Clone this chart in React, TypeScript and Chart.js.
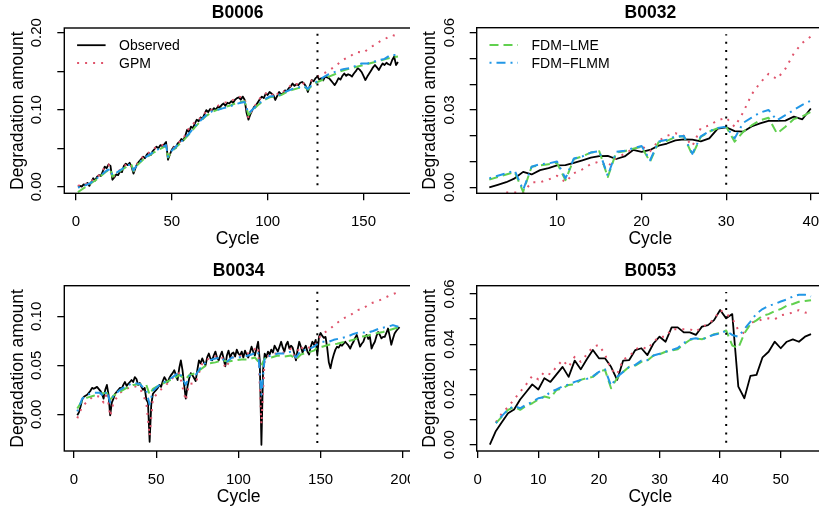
import React, { useEffect, useRef } from "react";
import { Chart, registerables } from "chart.js";
Chart.register(...registerables);

type Pt = [number, number];

const FONT = "'Liberation Sans', Arial, Helvetica, sans-serif";
const COL_OBS = "#000000";
const COL_GPM = "#DF536B";
const COL_LME = "#61D04F";
const COL_FLMM = "#2297E6";

const Y_TITLE = "Degradation amount";
const X_TITLE = "Cycle";

// ---------------- B0006 ----------------
const b0006Start = 1;
const b0006Obs = [
  0.000, 0.001, 0.000, 0.003, 0.002, 0.005, 0.001, 0.006, 0.011, 0.008,
  0.013, 0.015, 0.014, 0.020, 0.026, 0.024, 0.029, 0.027, 0.009, 0.012,
  0.016, 0.015, 0.020, 0.019, 0.027, 0.030, 0.028, 0.031, 0.026, 0.017,
  0.024, 0.030, 0.033, 0.036, 0.039, 0.037, 0.042, 0.044, 0.041, 0.046,
  0.049, 0.052, 0.050, 0.054, 0.053, 0.055, 0.058, 0.035, 0.042, 0.048,
  0.052, 0.050, 0.056, 0.058, 0.062, 0.060, 0.066, 0.074, 0.071, 0.078,
  0.076, 0.082, 0.087, 0.085, 0.090, 0.088, 0.094, 0.0995, 0.097, 0.101,
  0.099, 0.102, 0.100, 0.104, 0.103, 0.106, 0.108, 0.105, 0.109, 0.108,
  0.111, 0.109, 0.113, 0.115, 0.116, 0.113, 0.117, 0.113, 0.096, 0.087,
  0.094, 0.0995, 0.104, 0.106, 0.110, 0.114, 0.117, 0.115, 0.121, 0.119,
  0.123, 0.121, 0.119, 0.1126, 0.118, 0.123, 0.120, 0.121, 0.125, 0.124,
  0.128, 0.130, 0.134, 0.131, 0.133, 0.132, 0.135, 0.136, 0.134, 0.130,
  0.123, 0.131, 0.1385, 0.137, 0.141, 0.143, 0.139, 0.141, 0.138, 0.143,
  0.142, 0.141, 0.138, 0.135, 0.132, 0.136, 0.141, 0.139, 0.144, 0.147,
  0.144, 0.146, 0.145, 0.143, 0.147, 0.150, 0.154, 0.152, 0.149, 0.144,
  0.1385, 0.143, 0.147, 0.151, 0.155, 0.158, 0.155, 0.1515, 0.156, 0.160,
  0.158, 0.161, 0.159, 0.158, 0.1645, 0.169, 0.158, 0.162,
];
const b0006Gpm: Pt[] = [
  [1, 0.001], [4, 0.004], [7, 0.003], [9, 0.010], [12, 0.015], [15, 0.025], [17, 0.029], [19, 0.011],
  [21, 0.017], [25, 0.027], [28, 0.031], [30, 0.019], [32, 0.030], [35, 0.039], [38, 0.044], [42, 0.052],
  [45, 0.054], [47, 0.057], [48, 0.037], [50, 0.048], [53, 0.056], [56, 0.062], [58, 0.073], [60, 0.078],
  [63, 0.087], [66, 0.090], [68, 0.099], [71, 0.100], [74, 0.105], [77, 0.109], [80, 0.110], [83, 0.114],
  [85, 0.117], [88, 0.115], [90, 0.089], [92, 0.100], [95, 0.111], [97, 0.118], [99, 0.121], [101, 0.123],
  [104, 0.116], [106, 0.124], [108, 0.123], [111, 0.129], [113, 0.134], [116, 0.133], [118, 0.136], [121, 0.127],
  [123, 0.138], [126, 0.143], [128, 0.146], [130, 0.148], [132, 0.151], [135, 0.156], [137, 0.160], [139, 0.164],
  [141, 0.167], [143, 0.169], [145, 0.173], [147, 0.175], [150, 0.174], [153, 0.180], [155, 0.183], [157, 0.186],
  [160, 0.191], [162, 0.193], [165, 0.197], [168, 0.195],
];
const b0006Lme: Pt[] = [
  [1, -0.007], [4, -0.002], [7, 0.003], [10, 0.008], [13, 0.014], [16, 0.020], [18, 0.023], [19, 0.013],
  [21, 0.017], [24, 0.022], [27, 0.027], [29, 0.028], [30, 0.020], [32, 0.028], [35, 0.035], [38, 0.040],
  [41, 0.045], [44, 0.049], [47, 0.053], [48, 0.038], [50, 0.046], [53, 0.053], [56, 0.060], [59, 0.068],
  [62, 0.077], [65, 0.085], [68, 0.092], [71, 0.097], [74, 0.100], [77, 0.103], [80, 0.105], [83, 0.108],
  [86, 0.110], [88, 0.111], [90, 0.093], [92, 0.099], [95, 0.106], [98, 0.112], [101, 0.116], [104, 0.117],
  [107, 0.119], [110, 0.123], [113, 0.126], [116, 0.128], [119, 0.130], [121, 0.126], [123, 0.131], [126, 0.136],
  [129, 0.139], [132, 0.143], [135, 0.146], [138, 0.150], [141, 0.152], [144, 0.154], [147, 0.156], [150, 0.158],
  [153, 0.160], [156, 0.162], [159, 0.164], [162, 0.166], [165, 0.168], [168, 0.169],
];
const b0006Flmm: Pt[] = [
  [1, -0.001], [4, 0.001], [7, 0.004], [10, 0.009], [13, 0.015], [16, 0.021], [18, 0.023], [19, 0.015],
  [21, 0.018], [24, 0.023], [27, 0.028], [29, 0.029], [30, 0.021], [32, 0.029], [35, 0.036], [38, 0.041],
  [41, 0.046], [44, 0.050], [47, 0.054], [48, 0.039], [50, 0.047], [53, 0.054], [56, 0.061], [59, 0.069],
  [62, 0.078], [65, 0.086], [68, 0.093], [71, 0.098], [74, 0.100], [77, 0.102], [80, 0.104], [83, 0.107],
  [86, 0.109], [88, 0.110], [90, 0.095], [92, 0.100], [95, 0.107], [98, 0.113], [101, 0.117], [104, 0.118],
  [107, 0.120], [110, 0.124], [113, 0.127], [116, 0.129], [119, 0.131], [121, 0.127], [123, 0.132], [126, 0.137],
  [129, 0.142], [131, 0.145], [134, 0.148], [137, 0.151], [140, 0.153], [143, 0.154], [146, 0.157], [149, 0.160],
  [152, 0.160], [155, 0.162], [158, 0.1645], [161, 0.166], [164, 0.171], [168, 0.171],
];
const b0006Split: Pt[] = [[126, 0.002], [126, 0.1996]];
const b0006XTicks = [0, 50, 100, 150];
const b0006YTicks = [0, 0.05, 0.1, 0.15, 0.2];
const b0006YLabels = ["0.00", "", "0.10", "", "0.20"];

// ---------------- B0032 ----------------
const b0032Start = 2;
const b0032Obs = [
  0.000, 0.001, 0.002, 0.0035, 0.006, 0.005, 0.0067, 0.0075, 0.0085, 0.0086,
  0.0095, 0.0105, 0.0115, 0.0121, 0.0122, 0.011, 0.012, 0.0145, 0.0138, 0.0145,
  0.0162, 0.017, 0.0182, 0.0186, 0.0185, 0.0178, 0.019, 0.0228, 0.0233, 0.0218,
  0.0216, 0.0236, 0.0248, 0.0258, 0.0258, 0.0259, 0.0274, 0.0264, 0.0306,
];
const b0032Gpm: Pt[] = [
  [4, -0.002], [5, -0.002], [6, -0.002], [7, 0.002], [8, 0.002], [9, 0.003], [10, 0.0045], [11, 0.002],
  [12, 0.0055], [13, 0.007], [14, 0.009], [15, 0.010], [16, 0.008], [17, 0.0115], [18, 0.013], [19, 0.015],
  [20, 0.016], [21, 0.014], [22, 0.018], [23, 0.020], [24, 0.021], [25, 0.020], [26, 0.016], [27, 0.023],
  [28, 0.024], [29, 0.026], [30, 0.027], [31, 0.0235], [32, 0.029], [33, 0.036], [34, 0.0405], [35, 0.044],
  [36, 0.042], [37, 0.046], [38, 0.052], [39, 0.056], [40, 0.0585],
];
const b0032Lme: Pt[] = [
  [2, 0.003], [3, 0.004], [4, 0.005], [5, 0.006], [6, -0.0017], [7, 0.008], [8, 0.0085], [9, 0.009],
  [10, 0.0095], [11, 0.0028], [12, 0.011], [13, 0.012], [14, 0.0135], [15, 0.014], [16, 0.004], [17, 0.0135],
  [18, 0.014], [19, 0.015], [20, 0.0157], [21, 0.0099], [22, 0.0175], [23, 0.018], [24, 0.0195], [25, 0.0198],
  [26, 0.0125], [27, 0.0196], [28, 0.0216], [29, 0.0229], [30, 0.0235], [31, 0.0177], [32, 0.0215], [33, 0.024],
  [34, 0.026], [35, 0.027], [36, 0.0209], [37, 0.0235], [38, 0.0265], [39, 0.0275], [40, 0.0293],
];
const b0032Flmm: Pt[] = [
  [2, 0.0035], [3, 0.0045], [4, 0.0055], [5, 0.0065], [6, -0.001], [7, 0.008], [8, 0.009], [9, 0.0093],
  [10, 0.010], [11, 0.0035], [12, 0.0112], [13, 0.012], [14, 0.0135], [15, 0.014], [16, 0.0045], [17, 0.0138],
  [18, 0.0142], [19, 0.0152], [20, 0.016], [21, 0.0105], [22, 0.0178], [23, 0.0185], [24, 0.0198], [25, 0.0199],
  [26, 0.013], [27, 0.0198], [28, 0.0218], [29, 0.023], [30, 0.0235], [31, 0.019], [32, 0.025], [33, 0.027],
  [34, 0.029], [35, 0.030], [36, 0.026], [37, 0.028], [38, 0.030], [39, 0.032], [40, 0.0336],
];
const b0032Split: Pt[] = [[30, 0.001], [30, 0.0594]];
const b0032XTicks = [10, 20, 30, 40];
const b0032YTicks = [0, 0.01, 0.02, 0.03, 0.04, 0.05, 0.06];
const b0032YLabels = ["0.00", "", "", "0.03", "", "", "0.06"];

// ---------------- B0034 ----------------
const b0034Start = 2;
const b0034Obs = [
  -0.001, 0.002, 0.008, 0.015, 0.018, 0.019, 0.020, 0.022, 0.024, 0.027,
  0.026, 0.027, 0.028, 0.026, 0.024, 0.021, 0.016, 0.025, 0.030, 0.020,
  -0.001, 0.012, 0.016, 0.021, 0.023, 0.025, 0.027, 0.026, 0.030, 0.033,
  0.029, 0.031, 0.033, 0.035, 0.033, 0.038, 0.036, 0.030, 0.032, 0.028,
  0.025, 0.027, 0.015, 0.012, -0.028, 0.010, 0.021, 0.023, 0.025, 0.027,
  0.030, 0.028, 0.034, 0.038, 0.035, 0.033, 0.037, 0.040, 0.042, 0.045,
  0.040, 0.035, 0.047, 0.055, 0.045, 0.030, 0.016, 0.028, 0.036, 0.042,
  0.040, 0.037, 0.034, 0.045, 0.055, 0.052, 0.057, 0.053, 0.050, 0.058,
  0.062, 0.057, 0.055, 0.060, 0.064, 0.058, 0.055, 0.060, 0.064, 0.057,
  0.049, 0.060, 0.065, 0.058, 0.062, 0.063, 0.059, 0.066, 0.062, 0.060,
  0.064, 0.058, 0.065, 0.061, 0.058, 0.063, 0.069, 0.064, 0.060, 0.067,
  0.074, 0.055, -0.031, 0.045, 0.062, 0.058, 0.064, 0.061, 0.066, 0.063,
  0.070, 0.067, 0.064, 0.069, 0.074, 0.068, 0.064, 0.071, 0.074, 0.067,
  0.070, 0.068, 0.062, 0.055, 0.066, 0.074, 0.069, 0.063, 0.067, 0.070,
  0.064, 0.061, 0.069, 0.074, 0.071, 0.076, 0.060, 0.079, 0.083, 0.080,
  0.078, 0.079, 0.068, 0.053, 0.047, 0.055, 0.061, 0.066, 0.069, 0.068,
  0.071, 0.070, 0.072, 0.074, 0.072, 0.070, 0.067, 0.071, 0.074, 0.078,
  0.081, 0.075, 0.069, 0.072, 0.074, 0.079, 0.081, 0.077, 0.079, 0.067,
  0.071, 0.074, 0.080, 0.084, 0.081, 0.0775, 0.079, 0.079, 0.083, 0.0875,
  0.080, 0.071, 0.077, 0.0825, 0.085, 0.087, 0.089,
];
const b0034Gpm: Pt[] = [
  [2, -0.004], [5, 0.008], [8, 0.013], [12, 0.019], [16, 0.018], [18, 0.012], [20, 0.023], [22, -0.002],
  [24, 0.012], [28, 0.022], [32, 0.026], [36, 0.029], [40, 0.027], [44, 0.012], [46, -0.022], [48, 0.016],
  [52, 0.024], [56, 0.030], [60, 0.037], [64, 0.042], [68, 0.014], [70, 0.031], [74, 0.032], [78, 0.052],
  [82, 0.057], [86, 0.059], [90, 0.059], [92, 0.047], [96, 0.058], [100, 0.059], [104, 0.061], [108, 0.064],
  [112, 0.069], [114, -0.010], [116, 0.057], [120, 0.062], [124, 0.062], [128, 0.063], [132, 0.067], [135, 0.055],
  [137, 0.070], [140, 0.066], [144, 0.069], [148, 0.073], [150, 0.081], [152, 0.083], [155, 0.086], [159, 0.092],
  [164, 0.098], [168, 0.101], [172, 0.106], [176, 0.108], [180, 0.113], [184, 0.115], [188, 0.118], [193, 0.122],
  [198, 0.125],
];
const b0034Lme: Pt[] = [
  [2, 0.006], [5, 0.014], [8, 0.017], [12, 0.019], [16, 0.021], [20, 0.022], [22, 0.015], [24, 0.019],
  [28, 0.023], [32, 0.027], [36, 0.030], [40, 0.031], [44, 0.030], [46, 0.020], [48, 0.026], [52, 0.030],
  [56, 0.033], [60, 0.036], [64, 0.040], [68, 0.036], [70, 0.040], [74, 0.042], [78, 0.047], [82, 0.052],
  [86, 0.053], [90, 0.055], [94, 0.054], [98, 0.055], [102, 0.056], [106, 0.056], [110, 0.058], [114, 0.050],
  [116, 0.057], [120, 0.058], [124, 0.060], [128, 0.059], [132, 0.060], [135, 0.056], [138, 0.061], [142, 0.063],
  [146, 0.065], [148, 0.068], [151, 0.069], [155, 0.071], [160, 0.072], [165, 0.074], [170, 0.076], [174, 0.079],
  [178, 0.080], [184, 0.0826], [188, 0.084], [192, 0.086], [198, 0.089],
];
const b0034Flmm: Pt[] = [
  [2, 0.003], [5, 0.016], [8, 0.020], [12, 0.022], [16, 0.022], [18, 0.018], [20, 0.024], [22, 0.012],
  [24, 0.019], [28, 0.025], [32, 0.029], [36, 0.032], [40, 0.031], [44, 0.024], [46, 0.010], [48, 0.024],
  [52, 0.030], [56, 0.034], [60, 0.038], [64, 0.043], [68, 0.030], [70, 0.039], [74, 0.040], [78, 0.050],
  [82, 0.055], [86, 0.057], [90, 0.058], [92, 0.052], [96, 0.058], [100, 0.058], [104, 0.059], [108, 0.061],
  [112, 0.064], [114, 0.020], [116, 0.058], [120, 0.060], [124, 0.062], [128, 0.062], [132, 0.064], [135, 0.058],
  [138, 0.065], [142, 0.066], [146, 0.069], [148, 0.072], [151, 0.074], [155, 0.074], [158, 0.076], [162, 0.0775],
  [166, 0.079], [170, 0.082], [174, 0.084], [178, 0.083], [182, 0.085], [186, 0.0877], [191, 0.0894], [194, 0.091],
  [198, 0.089],
];
const b0034Split: Pt[] = [[148, -0.0293], [148, 0.1251]];
const b0034XTicks = [0, 50, 100, 150, 200];
const b0034YTicks = [0, 0.05, 0.1];
const b0034YLabels = ["0.00", "0.05", "0.10"];

// ---------------- B0053 ----------------
const b0053Start = 2;
const b0053Obs = [
  0.000, 0.0055, 0.009, 0.0125, 0.014, 0.018, 0.021, 0.024, 0.022, 0.0265,
  0.025, 0.028, 0.031, 0.027, 0.0335, 0.030, 0.034, 0.0377, 0.0344, 0.0344,
  0.031, 0.0258, 0.0335, 0.0337, 0.0377, 0.0384, 0.0357, 0.0403, 0.043, 0.041,
  0.0467, 0.0467, 0.0447, 0.0447, 0.0437, 0.047, 0.0476, 0.0496, 0.0536, 0.0503,
  0.052, 0.0231, 0.0185, 0.0274, 0.0278, 0.0348, 0.037, 0.041, 0.0384, 0.041,
  0.0419, 0.041, 0.043, 0.044,
];
const b0053Gpm: Pt[] = [
  [3, 0.009], [4, 0.0125], [5, 0.015], [6, 0.018], [7, 0.021], [8, 0.024], [9, 0.0274], [10, 0.026],
  [11, 0.029], [12, 0.028], [13, 0.031], [14, 0.0337], [15, 0.031], [16, 0.035], [17, 0.033], [18, 0.036],
  [19, 0.039], [20, 0.0397], [21, 0.036], [22, 0.030], [23, 0.028], [24, 0.034], [25, 0.035], [26, 0.038],
  [27, 0.039], [28, 0.038], [29, 0.041], [30, 0.043], [31, 0.043], [32, 0.046], [33, 0.046], [34, 0.046],
  [35, 0.046], [36, 0.045], [37, 0.047], [38, 0.048], [39, 0.050], [40, 0.0536], [41, 0.052], [42, 0.0503],
  [43, 0.0456], [44, 0.0443], [45, 0.0486], [46, 0.049], [47, 0.050], [48, 0.0503], [49, 0.0499], [50, 0.0515],
  [51, 0.052], [52, 0.0526], [53, 0.0536], [54, 0.0526], [55, 0.0525],
];
const b0053Lme: Pt[] = [
  [3, 0.0086], [4, 0.0112], [5, 0.0139], [6, 0.015], [7, 0.0139], [8, 0.0155], [9, 0.0165], [10, 0.018],
  [11, 0.0192], [12, 0.0186], [13, 0.0218], [14, 0.0225], [15, 0.0238], [16, 0.024], [17, 0.0258], [18, 0.0265],
  [19, 0.027], [20, 0.029], [21, 0.0298], [22, 0.0225], [23, 0.0265], [24, 0.029], [25, 0.031], [26, 0.0315],
  [27, 0.033], [28, 0.0335], [29, 0.0355], [30, 0.036], [31, 0.037], [32, 0.0375], [33, 0.038], [34, 0.040],
  [35, 0.0417], [36, 0.0423], [37, 0.042], [38, 0.0428], [39, 0.044], [40, 0.0445], [41, 0.0455], [42, 0.0395],
  [43, 0.0385], [44, 0.0443], [45, 0.048], [46, 0.0495], [47, 0.0513], [48, 0.052], [49, 0.0532], [50, 0.054],
  [51, 0.0553], [52, 0.056], [53, 0.0569], [54, 0.0572], [55, 0.0575],
];
const b0053Flmm: Pt[] = [
  [3, 0.0086], [4, 0.0115], [5, 0.014], [6, 0.0155], [7, 0.0145], [8, 0.016], [9, 0.017], [10, 0.0185],
  [11, 0.019], [12, 0.021], [13, 0.022], [14, 0.0232], [15, 0.024], [16, 0.025], [17, 0.0258], [18, 0.0262],
  [19, 0.0272], [20, 0.029], [21, 0.030], [22, 0.0235], [23, 0.027], [24, 0.029], [25, 0.031], [26, 0.0318],
  [27, 0.0335], [28, 0.0337], [29, 0.0355], [30, 0.0362], [31, 0.037], [32, 0.0377], [33, 0.0385], [34, 0.0405],
  [35, 0.042], [36, 0.0424], [37, 0.0418], [38, 0.043], [39, 0.0438], [40, 0.0443], [41, 0.0453], [42, 0.0437],
  [43, 0.043], [44, 0.046], [45, 0.049], [46, 0.0522], [47, 0.054], [48, 0.0553], [49, 0.056], [50, 0.057],
  [51, 0.0578], [52, 0.059], [53, 0.0597], [54, 0.0597], [55, 0.059],
];
const b0053Split: Pt[] = [[41, 0.0008], [41, 0.0608]];
const b0053XTicks = [0, 10, 20, 30, 40, 50];
const b0053YTicks = [0, 0.01, 0.02, 0.03, 0.04, 0.05, 0.06];
const b0053YLabels = ["0.00", "", "0.02", "", "0.04", "", "0.06"];

// ---------------- styles ----------------
const DASH_GPM = [2, 6];
const DASH_LME = [9, 5];
const DASH_FLMM = [2, 5, 9, 5];
const DASH_SPLIT = [2, 6.3];

type LegendItem = { label: string; color: string; dash: number[]; width: number };
const legendLeft: LegendItem[] = [
  { label: "Observed", color: COL_OBS, dash: [], width: 1.8 },
  { label: "GPM", color: COL_GPM, dash: DASH_GPM, width: 2 },
];
const legendRight: LegendItem[] = [
  { label: "FDM\u2212LME", color: COL_LME, dash: DASH_LME, width: 2 },
  { label: "FDM\u2212FLMM", color: COL_FLMM, dash: DASH_FLMM, width: 2 },
];

interface PanelCfg {
  title: string;
  left: number;
  top: number;
  clipW: number;
  canvasW: number;
  H: number;
  boxLeft: number;
  boxTop: number;
  boxBottom: number;
  xMin: number;
  xMax: number;
  yMin: number;
  yMax: number;
  xTicks: number[];
  yTicks: number[];
  yLabels: string[];
  start: number;
  obs: number[];
  gpm: Pt[];
  lme: Pt[];
  flmm: Pt[];
  split: Pt[];
  legend: LegendItem[];
}

const panels: PanelCfg[] = [
  {
    title: "B0006", left: 0, top: 0, clipW: 410, canvasW: 411, H: 255,
    boxLeft: 64.3, boxTop: 28, boxBottom: 193.3,
    xMin: -6.1, xMax: 174.8, yMin: -0.0086, yMax: 0.2061,
    xTicks: b0006XTicks, yTicks: b0006YTicks, yLabels: b0006YLabels,
    start: b0006Start, obs: b0006Obs, gpm: b0006Gpm, lme: b0006Lme, flmm: b0006Flmm, split: b0006Split,
    legend: legendLeft,
  },
  {
    title: "B0032", left: 410, top: 0, clipW: 414, canvasW: 414, H: 255,
    boxLeft: 66.7, boxTop: 27.7, boxBottom: 193.3,
    xMin: 0.51, xMax: 41.56, yMin: -0.0023, yMax: 0.0619,
    xTicks: b0032XTicks, yTicks: b0032YTicks, yLabels: b0032YLabels,
    start: b0032Start, obs: b0032Obs, gpm: b0032Gpm, lme: b0032Lme, flmm: b0032Flmm, split: b0032Split,
    legend: legendRight,
  },
  {
    title: "B0034", left: 0, top: 255, clipW: 410, canvasW: 413, H: 255,
    boxLeft: 64.3, boxTop: 30.7, boxBottom: 196,
    xMin: -5.9, xMax: 206.2, yMin: -0.0374, yMax: 0.1312,
    xTicks: b0034XTicks, yTicks: b0034YTicks, yLabels: b0034YLabels,
    start: b0034Start, obs: b0034Obs, gpm: b0034Gpm, lme: b0034Lme, flmm: b0034Flmm, split: b0034Split,
    legend: [],
  },
  {
    title: "B0053", left: 410, top: 255, clipW: 414, canvasW: 414, H: 255,
    boxLeft: 66.7, boxTop: 30.7, boxBottom: 196,
    xMin: -0.17, xMax: 57.14, yMin: -0.0025, yMax: 0.0633,
    xTicks: b0053XTicks, yTicks: b0053YTicks, yLabels: b0053YLabels,
    start: b0053Start, obs: b0053Obs, gpm: b0053Gpm, lme: b0053Lme, flmm: b0053Flmm, split: b0053Split,
    legend: [],
  },
];

const TICK_FONT = 15;
const TITLE_FONT = 17.5;
const LEGEND_FONT = 14;
const TICK_LEN = 7;

const rDecor = {
  id: "rDecor",
  afterDraw(chart: any, _args: any, opts: any) {
    const { ctx, chartArea: a } = chart;
    ctx.save();
    ctx.setLineDash([]);
    ctx.strokeStyle = "#000";
    ctx.lineWidth = 1.4;
    ctx.strokeRect(a.left, a.top, a.right - a.left, a.bottom - a.top);
    ctx.fillStyle = "#000";
    ctx.font = `bold ${TITLE_FONT}px ${FONT}`;
    ctx.textAlign = "center";
    ctx.textBaseline = "middle";
    ctx.fillText(opts.title, (a.left + a.right) / 2, a.top - 15);
    const items: LegendItem[] = opts.legend || [];
    items.forEach((it, i) => {
      const y = a.top + 17.2 + i * 17.8;
      const x1 = a.left + 12.8;
      ctx.save();
      ctx.strokeStyle = it.color;
      ctx.lineWidth = it.width;
      ctx.setLineDash(it.dash);
      ctx.beginPath();
      ctx.moveTo(x1, y);
      ctx.lineTo(x1 + 28.5, y);
      ctx.stroke();
      ctx.restore();
      ctx.fillStyle = "#000";
      ctx.font = `${LEGEND_FONT}px ${FONT}`;
      ctx.textAlign = "left";
      ctx.textBaseline = "middle";
      ctx.fillText(it.label, a.left + 54.8, y + 1);
    });
    ctx.restore();
  },
};

const toPts = (start: number, ys: number[]) => ys.map((y, i) => ({ x: start + i, y }));
const tupPts = (arr: Pt[]) => arr.map(([x, y]) => ({ x, y }));

function Panel({ cfg }: { cfg: PanelCfg }) {
  const ref = useRef<HTMLCanvasElement>(null);
  useEffect(() => {
    if (!ref.current) return;
    const line = (label: string, data: any[], color: string, dash: number[], width: number, order: number) => ({
      label, data, borderColor: color, backgroundColor: color, borderWidth: width, borderDash: dash,
      pointRadius: 0, pointHoverRadius: 0, fill: false, tension: 0, order,
      borderCapStyle: "butt", borderJoinStyle: "round",
    });
    const xAxisH = cfg.H - cfg.boxBottom;
    const titleLH = TITLE_FONT * 1.2;
    const chart = new Chart(ref.current, {
      type: "line",
      data: {
        datasets: [
          line("Observed", toPts(cfg.start, cfg.obs), COL_OBS, [], 1.8, 4),
          line("GPM", tupPts(cfg.gpm), COL_GPM, DASH_GPM, 2, 3),
          line("FDM-LME", tupPts(cfg.lme), COL_LME, DASH_LME, 2, 2),
          line("FDM-FLMM", tupPts(cfg.flmm), COL_FLMM, DASH_FLMM, 2, 1),
          line("split", tupPts(cfg.split), "#000", DASH_SPLIT, 2, 0),
        ] as any,
      },
      options: {
        responsive: false,
        animation: false,
        events: [],
        layout: { padding: { top: cfg.boxTop, left: 0, right: 0, bottom: 0 } },
        plugins: {
          legend: { display: false },
          tooltip: { enabled: false },
          title: { display: false },
          rDecor: { title: cfg.title, legend: cfg.legend },
        } as any,
        scales: {
          x: {
            type: "linear",
            min: cfg.xMin,
            max: cfg.xMax,
            afterBuildTicks: (s: any) => { s.ticks = cfg.xTicks.map((v) => ({ value: v })); },
            afterFit: (s: any) => { s.height = xAxisH; s.paddingLeft = 0; s.paddingRight = 0; },
            ticks: {
              autoSkip: false, maxRotation: 0, minRotation: 0, padding: 12.4, color: "#000",
              font: { family: FONT, size: TICK_FONT },
              callback: (v: any) => String(v),
            },
            grid: { display: true, drawOnChartArea: false, drawTicks: true, tickLength: TICK_LEN, color: "#000", lineWidth: 1.3 },
            border: { display: false },
            title: {
              display: true, text: X_TITLE, color: "#000",
              font: { family: FONT, size: TITLE_FONT },
              padding: { top: 0, bottom: xAxisH - 46 - titleLH / 2 },
            },
          },
          y: {
            type: "linear",
            min: cfg.yMin,
            max: cfg.yMax,
            afterBuildTicks: (s: any) => { s.ticks = cfg.yTicks.map((v) => ({ value: v })); },
            afterFit: (s: any) => { s.width = cfg.boxLeft; s.paddingTop = 0; s.paddingBottom = 0; },
            ticks: {
              autoSkip: false, minRotation: 90, maxRotation: 90, crossAlign: "center", padding: 5.4, color: "#000",
              font: { family: FONT, size: TICK_FONT },
              callback: (_v: any, i: number) => cfg.yLabels[i],
            },
            grid: { display: true, drawOnChartArea: false, drawTicks: true, tickLength: TICK_LEN, color: "#000", lineWidth: 1.3 },
            border: { display: false },
            title: {
              display: true, text: Y_TITLE, color: "#000",
              font: { family: FONT, size: TITLE_FONT },
              padding: { top: cfg.boxLeft - 46.5 - titleLH / 2, bottom: 0 },
            },
          },
        },
      } as any,
      plugins: [rDecor as any],
    });
    return () => chart.destroy();
  }, [cfg]);
  return (
    <div style={{ position: "absolute", left: cfg.left, top: cfg.top, width: cfg.clipW, height: cfg.H, overflow: "hidden" }}>
      <canvas ref={ref} width={cfg.canvasW} height={cfg.H} style={{ display: "block", width: cfg.canvasW, height: cfg.H }} />
    </div>
  );
}

export default function App() {
  return (
    <div style={{ position: "fixed", left: 0, top: 0, width: 819, height: 510, overflow: "hidden", background: "#fff" }}>
      {panels.map((p) => (
        <Panel key={p.title} cfg={p} />
      ))}
    </div>
  );
}
